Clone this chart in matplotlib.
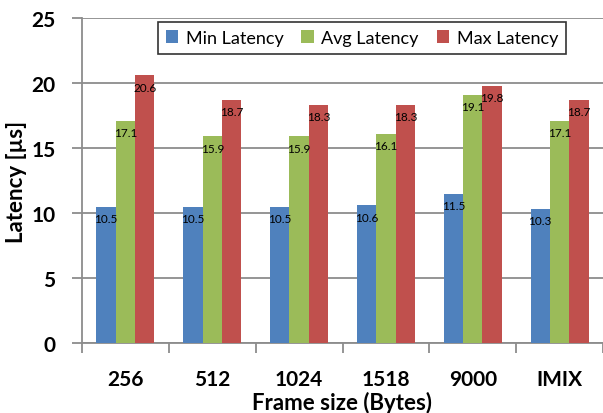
import numpy as np
import matplotlib
matplotlib.use('Agg')
import matplotlib.pyplot as plt

frame_sizes = ['256', '512', '1024', '1518', '9000', 'IMIX']
min_latency = [10.5, 10.5, 10.5, 10.6, 11.5, 10.3]
avg_latency = [17.1, 15.9, 15.9, 16.1, 19.1, 17.1]
max_latency = [20.6, 18.7, 18.3, 18.3, 19.8, 18.7]
series_names = ['Min Latency', 'Avg Latency', 'Max Latency']
colors = ['#4F81BD', '#9BBB59', '#C0504D']

plt.rcParams['font.family'] = ['Lato', 'DejaVu Sans']

fig = plt.figure(figsize=(6.03, 4.14), dpi=100)
ax = fig.add_axes([82 / 603, 70 / 414, 1 - 82 / 603, (344 - 19) / 414])

x = np.arange(len(frame_sizes))
width = 0.223
grid_color = '#8c8c8c'

for i, (vals, name) in enumerate(zip([min_latency, avg_latency, max_latency], series_names)):
    bars = ax.bar(x + (i - 1) * width, vals, width, color=colors[i], label=name, zorder=3)
    for b, v in zip(bars, vals):
        ax.annotate(f'{v:.1f}', (b.get_x() + b.get_width() / 2, v),
                    xytext=(0, -8.5), textcoords='offset points',
                    ha='center', va='center', fontsize=8.5, zorder=4)

ax.set_xlim(-0.5, 5.5)
ax.set_ylim(0, 25)
ax.set_yticks(range(0, 26, 5))
ax.yaxis.grid(True, color=grid_color, linewidth=1.3, zorder=0)

# category boundaries as tick marks below the axis
ax.set_xticks(np.arange(-0.5, 6, 1), minor=False)
ax.set_xticklabels([])
ax.set_xticks(x, minor=True)
ax.set_xticklabels(frame_sizes, minor=True, fontsize=15, fontweight='bold')
ax.tick_params(axis='x', which='major', length=7, color=grid_color, width=1.3)
ax.tick_params(axis='x', which='minor', length=0, pad=19)
ax.tick_params(axis='y', length=7, color=grid_color, width=1.3, labelsize=15, pad=12)
for lbl in ax.get_yticklabels():
    lbl.set_fontweight('bold')

for side in ['top', 'right']:
    ax.spines[side].set_visible(False)
for side in ['left', 'bottom']:
    ax.spines[side].set_color(grid_color)
    ax.spines[side].set_linewidth(1.3)

ax.set_xlabel('Frame size (Bytes)', fontsize=16, fontweight='bold', labelpad=1)
ax.set_ylabel('Latency [µs]', fontsize=16, fontweight='bold', labelpad=3)

leg = ax.legend(loc='upper right', bbox_to_anchor=(0.929, 0.988), borderaxespad=0,
                ncol=3, fontsize=13, frameon=True, fancybox=False,
                handlelength=0.7, handleheight=0.7, handletextpad=0.4,
                columnspacing=1.0, borderpad=0.45)
leg.get_frame().set_edgecolor('black')
leg.get_frame().set_linewidth(1.2)

fig.savefig('out.png', dpi=100)
